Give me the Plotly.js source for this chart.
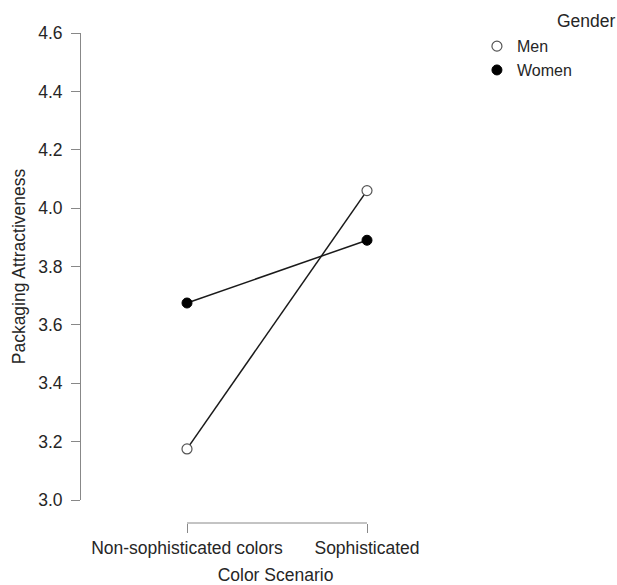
<!DOCTYPE html>
<html>
<head>
<meta charset="utf-8">
<script src="https://cdn.plot.ly/plotly-3.0.1.min.js"></script>
<style>html,body{margin:0;padding:0;background:#fff;}#chart{width:617px;height:585px;}</style>
</head>
<body>
<div id="chart"></div>
<script>
const categories = ['Non-sophisticated colors', 'Sophisticated'];
const menValues = [3.175, 4.06];
const womenValues = [3.675, 3.89];
const yTicks = [3.0, 3.2, 3.4, 3.6, 3.8, 4.0, 4.2, 4.4, 4.6];
const yTickLabels = ['3.0', '3.2', '3.4', '3.6', '3.8', '4.0', '4.2', '4.4', '4.6'];
const legendTitle = 'Gender';

const FONT = 'Liberation Sans, Arial, Helvetica, sans-serif';
const FS = 17.5;
const TXT = '#262626';
const lineStyle = {color: '#1a1a1a', width: 1.5};

const traces = [
  {x: categories, y: menValues, type: 'scatter', mode: 'lines', line: lineStyle, showlegend: false, hoverinfo: 'skip'},
  {x: categories, y: womenValues, type: 'scatter', mode: 'lines', line: lineStyle, showlegend: false, hoverinfo: 'skip'},
  {x: categories, y: menValues, type: 'scatter', mode: 'markers', name: 'Men',
   marker: {symbol: 'circle', size: 10, color: '#ffffff', line: {color: '#555555', width: 1.2}}},
  {x: categories, y: womenValues, type: 'scatter', mode: 'markers', name: 'Women',
   marker: {symbol: 'circle', size: 10, color: '#000000', line: {color: '#000000', width: 1}}}
];

const layout = {
  width: 617, height: 585,
  margin: {l: 81, r: 147, t: 33, b: 62, pad: 0},
  paper_bgcolor: '#ffffff', plot_bgcolor: '#ffffff',
  font: {family: FONT, size: FS, color: TXT},
  showlegend: true,
  legend: {
    xref: 'container', yref: 'container',
    x: 0.773, y: 0.950, xanchor: 'left', yanchor: 'top',
    font: {family: FONT, size: 16, color: TXT},
    itemwidth: 30, tracegroupgap: 0, bgcolor: 'rgba(0,0,0,0)'
  },
  annotations: [
    {text: legendTitle, xref: 'paper', yref: 'paper', x: 1.381, y: 1.0245,
     xanchor: 'right', yanchor: 'middle', showarrow: false,
     font: {family: FONT, size: FS, color: TXT}}
  ],
  xaxis: {
    type: 'category', range: [-0.5889, 1.5722],
    anchor: 'free', position: 0,
    showline: false, showgrid: false, zeroline: false,
    ticks: 'outside', ticklen: 9, tickwidth: 1, tickcolor: '#888888',
    tickfont: {family: FONT, size: FS, color: TXT},
    title: {text: 'Color Scenario', font: {family: FONT, size: FS, color: TXT}, standoff: 16},
    fixedrange: true
  },
  yaxis: {
    domain: [0.0469, 1], range: [3.0, 4.6],
    showline: true, linecolor: '#888888', linewidth: 1,
    showgrid: false, zeroline: false,
    ticks: 'outside', ticklen: 9, tickwidth: 1, tickcolor: '#888888',
    ticklabelstandoff: 5,
    tickvals: yTicks, ticktext: yTickLabels,
    tickfont: {family: FONT, size: FS, color: TXT},
    title: {text: 'Packaging Attractiveness', font: {family: FONT, size: FS, color: TXT}, standoff: 8},
    fixedrange: true
  },
  shapes: [
    {type: 'line', xref: 'x', yref: 'paper', x0: 0, x1: 1, y0: 0, y1: 0,
     line: {color: '#888888', width: 1}}
  ]
};

Plotly.newPlot('chart', traces, layout, {displayModeBar: false, staticPlot: true});
</script>
</body>
</html>
